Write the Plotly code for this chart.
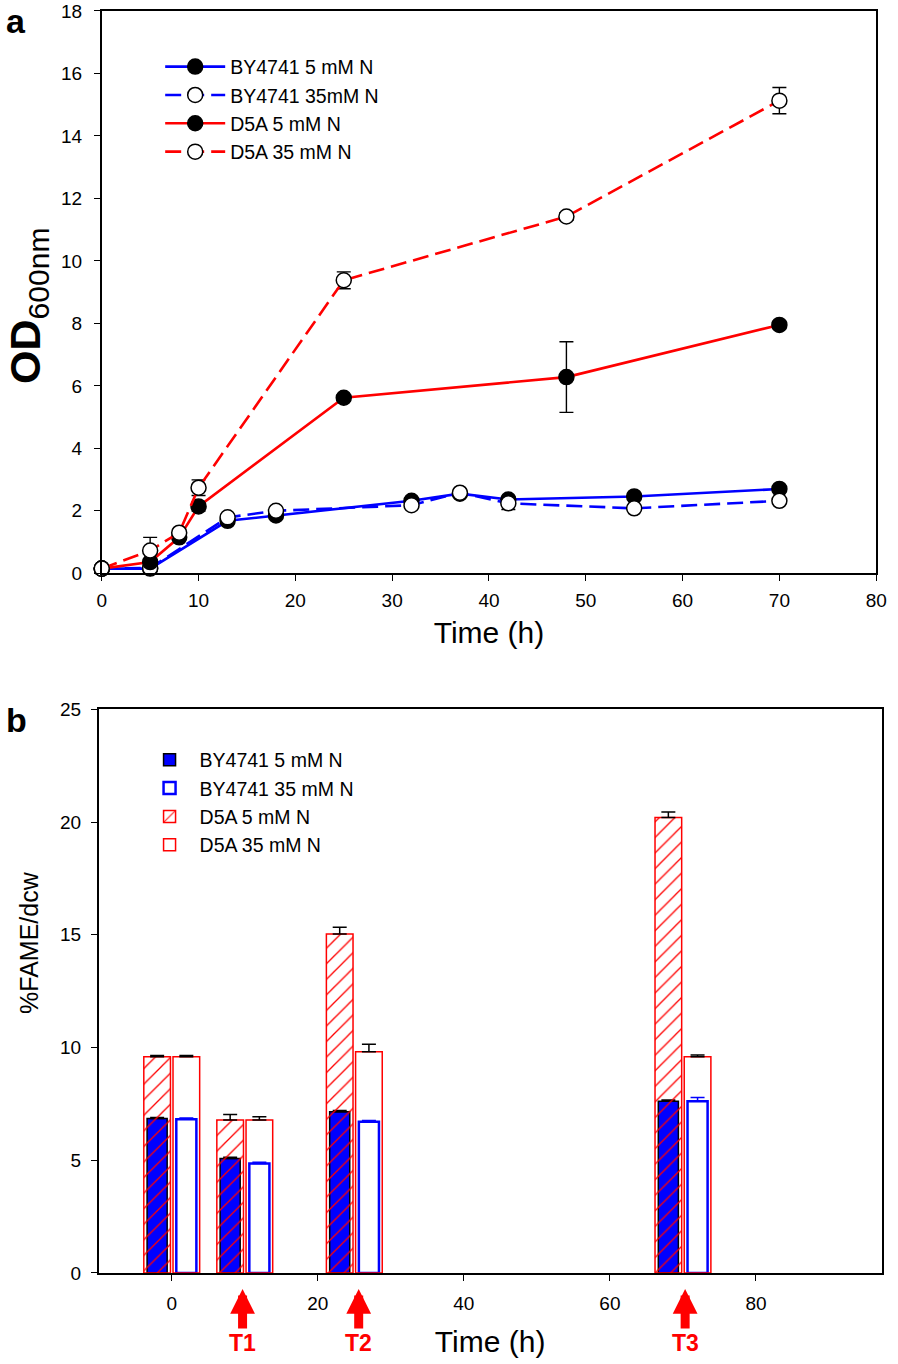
import plotly.graph_objects as go

# ---------------- Panel a data (OD600 growth curves) ----------------
by_time = [0, 5, 13, 18, 32, 37, 42, 55, 70]
by_5mM = [0.15, 0.15, 1.68, 1.85, 2.32, 2.55, 2.36, 2.46, 2.70]
by_5mM_err = [0.03, 0.03, 0.05, 0.05, 0.05, 0.05, 0.06, 0.05, 0.08]
by_35mM = [0.15, 0.17, 1.79, 2.00, 2.18, 2.58, 2.24, 2.08, 2.32]
by_35mM_err = [0.03, 0.03, 0.05, 0.05, 0.05, 0.05, 0.20, 0.05, 0.05]

d5a_time = [0, 5, 8, 10, 25, 48, 70]
d5a_5mM = [0.15, 0.36, 1.15, 2.14, 5.62, 6.28, 7.95]
d5a_5mM_err = [0.03, 0.10, 0.08, 0.15, 0.10, 1.13, 0.12]
d5a_35mM = [0.15, 0.73, 1.30, 2.74, 9.38, 11.42, 15.13]
d5a_35mM_err = [0.03, 0.42, 0.08, 0.25, 0.27, 0.12, 0.42]

# ---------------- Panel b data (%FAME/dcw) ----------------
fame_time = [0, 10, 25, 70]
fame_by_5mM = [6.85, 5.08, 7.15, 7.62]
fame_by_5mM_err = [0.05, 0.05, 0.05, 0.05]
fame_by_35mM = [6.82, 4.86, 6.71, 7.62]
fame_by_35mM_err = [0.05, 0.05, 0.05, 0.16]
fame_d5a_5mM = [9.59, 6.78, 15.03, 20.20]
fame_d5a_5mM_err = [0.05, 0.25, 0.30, 0.24]
fame_d5a_35mM = [9.59, 6.78, 9.81, 9.59]
fame_d5a_35mM_err = [0.05, 0.15, 0.33, 0.08]

arrow_times = [9.7, 25.6, 70.3]
arrow_labels = ["T1", "T2", "T3"]

FONT = "Liberation Sans, Arial, sans-serif"
BLUE = "#0000FF"
RED = "#FF0000"
W, H = 898, 1364

fig = go.Figure()

def line_trace(x, y, err, name, color, filled, dash):
    return go.Scatter(
        x=x, y=y, name=name, mode="lines+markers",
        line=dict(color=color, width=2.6, dash=dash),
        marker=dict(symbol="circle", size=15,
                    color="black" if filled else "white",
                    line=dict(color="black", width=1.5)),
        error_y=dict(type="data", array=err, color="black", thickness=1.4, width=7),
        cliponaxis=False, xaxis="x", yaxis="y", legend="legend",
    )

fig.add_trace(line_trace(by_time, by_5mM, by_5mM_err, "BY4741 5 mM N", BLUE, True, "solid"))
fig.add_trace(line_trace(by_time, by_35mM, by_35mM_err, "BY4741 35mM N", BLUE, False, "16px,7px"))
fig.add_trace(line_trace(d5a_time, d5a_5mM, d5a_5mM_err, "D5A 5 mM N", RED, True, "solid"))
fig.add_trace(line_trace(d5a_time, d5a_35mM, d5a_35mM_err, "D5A 35 mM N", RED, False, "16px,7px"))

# ---------------- Panel b bars ----------------
RED_W = 3.65
BLUE_W = 2.75
SHIFT = 2.0

def up_err(arr, color):
    return dict(type="data", symmetric=False, array=arr, arrayminus=[0] * len(arr),
                color=color, thickness=1.5, width=7)

fig.add_trace(go.Bar(
    x=fame_time, y=fame_by_5mM, name="BY4741 5 mM N",
    width=BLUE_W, offset=-SHIFT - BLUE_W / 2,
    marker=dict(color=BLUE, line=dict(color="black", width=1.5)),
    error_y=up_err(fame_by_5mM_err, "black"),
    xaxis="x2", yaxis="y2", legend="legend2"))
fig.add_trace(go.Bar(
    x=fame_time, y=fame_by_35mM, name="BY4741 35 mM N",
    width=BLUE_W, offset=SHIFT - BLUE_W / 2,
    marker=dict(color="white", line=dict(color=BLUE, width=2.5)),
    error_y=up_err(fame_by_35mM_err, BLUE),
    xaxis="x2", yaxis="y2", legend="legend2"))
fig.add_trace(go.Bar(
    x=fame_time, y=fame_d5a_5mM, name="D5A 5 mM N",
    width=RED_W, offset=-SHIFT - RED_W / 2,
    marker=dict(color="rgba(0,0,0,0)", line=dict(color=RED, width=1.5),
                pattern=dict(shape="/", fgcolor=RED, size=11, solidity=0.12,
                             fillmode="replace")),
    error_y=up_err(fame_d5a_5mM_err, "black"),
    xaxis="x2", yaxis="y2", legend="legend2"))
fig.add_trace(go.Bar(
    x=fame_time, y=fame_d5a_35mM, name="D5A 35 mM N",
    width=RED_W, offset=SHIFT - RED_W / 2,
    marker=dict(color="rgba(0,0,0,0)", line=dict(color=RED, width=1.5)),
    error_y=up_err(fame_d5a_35mM_err, "black"),
    xaxis="x2", yaxis="y2", legend="legend2"))

axis_common = dict(showline=True, linecolor="black", linewidth=1.5, mirror=True,
                   ticks="outside", ticklen=6, tickwidth=1.2, tickcolor="black",
                   showgrid=False, zeroline=False)

annotations = [
    dict(text="<b>a</b>", x=0.0, y=1.0, xref="paper", yref="paper", xanchor="left",
         yanchor="top", showarrow=False, font=dict(size=34, family=FONT, color="black"),
         xshift=-1, yshift=10),
    dict(text="<b>b</b>", x=0.0, y=1 - 700 / H, xref="paper", yref="paper", xanchor="left",
         yanchor="top", showarrow=False, font=dict(size=34, family=FONT, color="black"),
         xshift=-1),
    dict(text="<b>OD</b><sub>600nm</sub>", x=24 / W, y=1 - 300 / H, xref="paper",
         yref="paper", xanchor="center", yanchor="middle", textangle=-90,
         showarrow=False, font=dict(size=43, family=FONT, color="black")),
    dict(text="%FAME/dcw", x=25 / W, y=1 - 947 / H, xref="paper", yref="paper",
         xanchor="center", yanchor="middle", textangle=-90, showarrow=False,
         font=dict(size=25, family=FONT, color="black")),
]
for t, lab in zip(arrow_times, arrow_labels):
    annotations.append(dict(x=t, y=1 - 1299 / H, xref="x2", yref="paper",
                            text="<b>%s</b>" % lab, showarrow=True, arrowhead=2,
                            arrowsize=0.55, arrowwidth=9, arrowcolor=RED,
                            ax=0, ay=54, standoff=0,
                            font=dict(size=23, family=FONT, color=RED)))

fig.update_layout(
    autosize=True,
    margin=dict(l=0, r=0, t=0, b=0),
    paper_bgcolor="white", plot_bgcolor="white",
    font=dict(family=FONT, size=19, color="black"),
    barmode="overlay",
    xaxis=dict(axis_common, domain=[98.5 / W, 887 / W], range=[0, 80], dtick=10,
               anchor="y", tickfont=dict(size=19), ticklabelstandoff=3,
               title=dict(text="Time (h)", font=dict(size=30), standoff=12)),
    yaxis=dict(axis_common, domain=[1 - 572.1 / H, 1 - 1 / H], range=[0, 18], dtick=2,
               anchor="x", tickfont=dict(size=19), ticklabelstandoff=8),
    xaxis2=dict(axis_common, domain=[95.4 / W, 892.5 / W], range=[-10, 97.2],
                tickvals=[0, 20, 40, 60, 80], anchor="y2", tickfont=dict(size=19),
                ticklabelstandoff=6,
                title=dict(text="Time (h)", font=dict(size=30), standoff=18)),
    yaxis2=dict(axis_common, domain=[1 - 1282.7 / H, 1 - 710.2 / H], range=[0, 25],
                dtick=5, anchor="x2", tickfont=dict(size=19), ticklabelstandoff=6),
    legend=dict(x=158 / W, y=1 - 38 / H, xanchor="left", yanchor="top",
                bgcolor="rgba(0,0,0,0)", font=dict(size=19.5, family=FONT),
                itemwidth=60, traceorder="normal"),
    legend2=dict(x=137 / W, y=1 - 742 / H, xanchor="left", yanchor="top",
                 bgcolor="rgba(0,0,0,0)", font=dict(size=19.5, family=FONT),
                 itemwidth=50, traceorder="normal"),
    annotations=annotations,
    showlegend=True,
)

fig.write_html(
    "out.html",
    config={"displayModeBar": False, "responsive": True},
    default_width="100vw", default_height="100vh",
    post_script=("document.documentElement.style.margin='0';"
                 "document.documentElement.style.overflow='hidden';"
                 "document.body.style.margin='0';"
                 "document.body.style.overflow='hidden';"),
)
